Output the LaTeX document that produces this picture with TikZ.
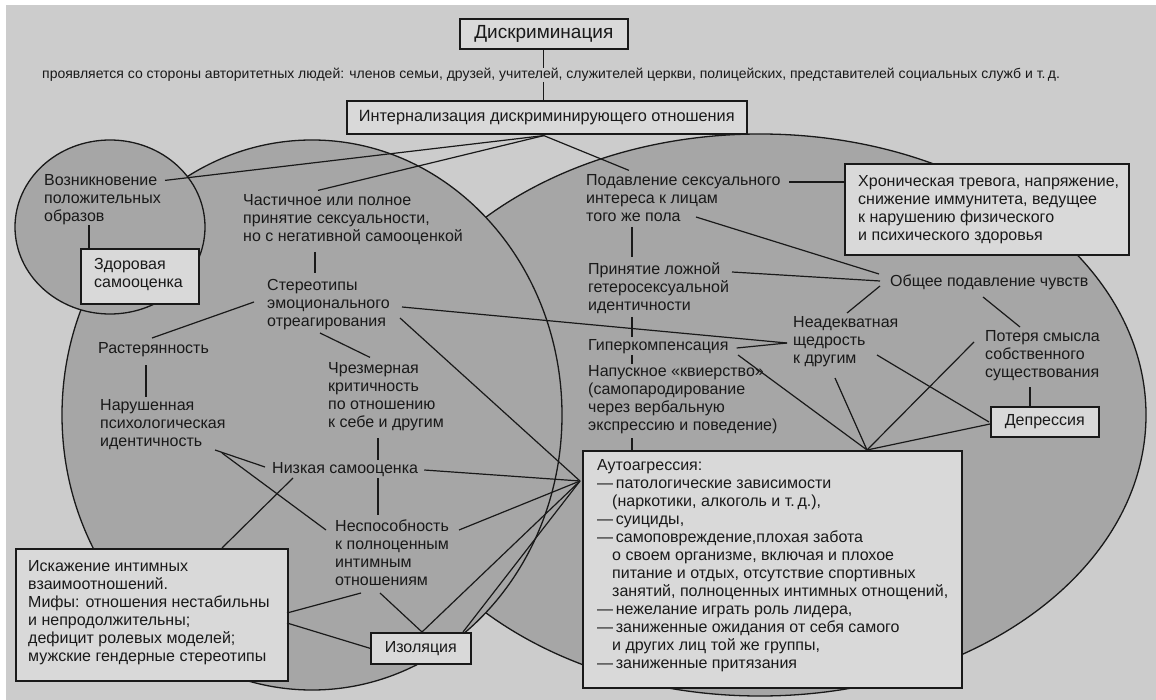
\documentclass[tikz,border=0pt]{standalone}
\usepackage{fontspec}
\setmainfont{Liberation Sans}
\usetikzlibrary{calc}
\pgfdeclarelayer{bg}
\pgfsetlayers{bg,main}
\definecolor{bgc}{gray}{0.80}
\definecolor{elc}{gray}{0.65}
\definecolor{bxc}{gray}{0.85}
\definecolor{ink}{gray}{0.10}
\begin{document}
\begin{tikzpicture}[x=1pt,y=-1pt,
  tx/.style={font=\fontsize{16}{18}\selectfont, text=ink, inner sep=0pt, align=left, anchor=north west, execute at begin node=\strut},
  tx1/.style={font=\fontsize{16}{18}\selectfont, text=ink, inner sep=0pt, anchor=west},
  bx/.style={draw=ink, line width=1.6pt, fill=bxc, anchor=north west, inner sep=0pt, text=ink, font=\fontsize{16}{18}\selectfont},
  ln/.style={draw=ink, line width=1.2pt},
  el/.style={draw=ink, line width=1.3pt, fill=elc}]
\useasboundingbox (0,0) rectangle (1156,700);
\begin{pgfonlayer}{bg}
\fill[white] (0,0) rectangle (1156,700);
\fill[bgc] (6,5) rectangle (1156,700);
\path[el] (760,415) ellipse [x radius=386, y radius=281];
\path[el] (312,415) ellipse [x radius=250, y radius=275];
\path[el] (110,227) ellipse [x radius=95, y radius=87];
\end{pgfonlayer}

% boxes
\node[bx, minimum width=168pt, minimum height=30pt, font=\fontsize{19}{22}\selectfont] (disc) at (459,18) {Дискриминация};
\node[tx1, font=\fontsize{14}{16}\selectfont] (prop) at (42,75) {проявляется со стороны авторитетных людей: членов семьи, друзей, учителей, служителей церкви, полицейских, представителей социальных служб и т.\,д.};
\node[bx, minimum width=400pt, minimum height=33pt, font=\fontsize{16.3}{18}\selectfont] (intl) at (346,100) {Интернализация дискриминирующего отношения};
\node[bx, minimum width=118pt, minimum height=55pt] (zdr) at (80,248) {};
\node[tx] (zdrt) at (94,258.4) {Здоровая\\самооценка};
\node[bx, minimum width=284pt, minimum height=91pt] (chr) at (844,163) {};
\node[tx] (chrt) at (858,175.4) {Хроническая тревога, напряжение,\\снижение иммунитета, ведущее\\к нарушению физического\\и психического здоровья};
\node[bx, minimum width=272pt, minimum height=132pt] (isk) at (15,548) {};
\node[tx] (iskt) at (28,560.4) {Искажение интимных\\взаимоотношений.\\Мифы: отношения нестабильны\\и непродолжительны;\\дефицит ролевых моделей;\\мужские гендерные стереотипы};
\node[bx, minimum width=100pt, minimum height=31pt] (izo) at (370,632) {Изоляция};
\node[bx, minimum width=108pt, minimum height=30pt] (dep) at (990,406) {Депрессия};
\node[bx, minimum width=379pt, minimum height=237pt] (aut) at (582,450) {};
\node[tx] (autt) at (597,459.4) {Аутоагрессия:\\—\,патологические зависимости\\\hspace*{15pt}(наркотики, алкоголь и т.\,д.),\\—\,суициды,\\—\,самоповреждение,плохая забота\\\hspace*{15pt}о своем организме, включая и плохое\\\hspace*{15pt}питание и отдых, отсутствие спортивных\\\hspace*{15pt}занятий, полноценных интимных отнощений,\\—\,нежелание играть роль лидера,\\—\,заниженные ожидания от себя самого\\\hspace*{15pt}и других лиц той же группы,\\—\,заниженные притязания};

% text nodes
\node[tx] (voz) at (44,174.4) {Возникновение\\положительных\\образов};
\node[tx] (chast) at (243,194.4) {Частичное или полное\\принятие сексуальности,\\но с негативной самооценкой};
\node[tx] (ster) at (267,279.4) {Стереотипы\\эмоционального\\отреагирования};
\node[tx1] (rast) at (98,350) {Растерянность};
\node[tx] (nar) at (100,399.4) {Нарушенная\\психологическая\\идентичность};
\node[tx] (chrez) at (328,362.4) {Чрезмерная\\критичность\\по отношению\\к себе и другим};
\node[tx1] (niz) at (272,470) {Низкая самооценка};
\node[tx] (nesp) at (335,519.4) {Неспособность\\к полноценным\\интимным\\отношениям};
\node[tx] (podav) at (586,174.4) {Подавление сексуального\\интереса к лицам\\того же пола};
\node[tx] (prin) at (588,262.4) {Принятие ложной\\гетеросексуальной\\идентичности};
\node[tx1] (obsh) at (890,282) {Общее подавление чувств};
\node[tx] (nead) at (793,316.4) {Неадекватная\\щедрость\\к другим};
\node[tx] (potr) at (985,330.4) {Потеря смысла\\собственного\\существования};
\node[tx1] (giper) at (588,347) {Гиперкомпенсация};
\node[tx] (napu) at (588,365.4) {Напускное «квиерство»\\(самопародирование\\через вербальную\\экспрессию и поведение)};

% junction points
\coordinate (aA) at ([shift={(-2,31)}]aut.north west);
\coordinate (aB) at ([shift={(285,0)}]aut.north west);
\coordinate (ib) at ([shift={(-3,1)}]intl.south);
\coordinate (sh) at ([shift={(-6,26.6)}]nead.north west);
\coordinate (ob) at ([shift={(-10,-1)}]obsh.west);
\coordinate (dl) at ([shift={(0,18)}]dep.north west);

% connectors
\draw[ln] (disc.south) -- (disc.south |- prop.north);
\draw[ln] (disc.south |- prop.south) -- (disc.south |- intl.north);
\draw[ln] ([shift={(121,6)}]voz.north west) -- (ib);
\draw[ln] ([shift={(75,-4)}]chast.north west) -- (ib);
\draw[ln] (ib) -- ([shift={(43,-4)}]podav.north west);
\draw[ln] ([shift={(45,51)}]voz.north west) -- ([shift={(9,0)}]zdr.north west);
\draw[ln] ([shift={(72,57.6)}]chast.north west) -- ([shift={(48,-6)}]ster.north west);
\draw[ln] ([shift={(-13,22.6)}]ster.north west) -- ([shift={(54,-12)}]rast.west);
\draw[ln] ([shift={(48,15)}]rast.west) -- ([shift={(46,-2)}]nar.north west);
\draw[ln] ([shift={(53,53.6)}]ster.north west) -- ([shift={(42,-5)}]chrez.north west);
\draw[ln] ([shift={(50,75.6)}]chrez.north west) -- ([shift={(106,-10)}]niz.west);
\draw[ln] ([shift={(135,27.6)}]ster.north west) -- (sh);
\draw[ln] ([shift={(133,38.6)}]ster.north west) -- (aA);
\draw[ln] ([shift={(115,50.6)}]nar.north west) -- ([shift={(-7,-3)}]niz.west);
\draw[ln] ([shift={(122,53.6)}]nar.north west) -- ([shift={(-9,10.6)}]nesp.north west);
\draw[ln] ([shift={(6,0)}]niz.east) -- (aA);
\draw[ln] ([shift={(106,8)}]niz.west) -- ([shift={(43,-4.4)}]nesp.north west);
\draw[ln] ([shift={(21,8)}]niz.west) -- ([shift={(207,0)}]isk.north west);
\draw[ln] ([shift={(124,10.6)}]nesp.north west) -- (aA);
\draw[ln] ([shift={(26,73.6)}]nesp.north west) -- ([shift={(272,65)}]isk.north west);
\draw[ln] ([shift={(45,73.6)}]nesp.north west) -- ([shift={(52,0)}]izo.north west);
\draw[ln] ([shift={(272,75)}]isk.north west) -- (izo.west);
\draw[ln] ([shift={(52,0)}]izo.north west) -- (aA);
\draw[ln] ([shift={(93,0)}]izo.north west) -- (aA);
\draw[ln] ([shift={(203,7.6)}]podav.north west) -- ([shift={(0,19)}]chr.north west);
\draw[ln] ([shift={(110,42.6)}]podav.north west) -- ([shift={(-11,-8)}]obsh.west);
\draw[ln] ([shift={(46,52.6)}]podav.north west) -- ([shift={(44,-5.4)}]prin.north west);
\draw[ln] ([shift={(144,9.6)}]prin.north west) -- (ob);
\draw[ln] ([shift={(44,54.6)}]prin.north west) -- ([shift={(44,-10)}]giper.west);
\draw[ln] ([shift={(0,5)}]ob) -- ([shift={(54,-3.4)}]nead.north west);
\draw[ln] ([shift={(93,15)}]obsh.west) -- ([shift={(35,-3.4)}]potr.north west);
\draw[ln] ([shift={(8,1)}]giper.east) -- (sh);
\draw[ln] ([shift={(44,8)}]giper.west) -- ([shift={(44,-1)}]napu.north west);
\draw[ln] ([shift={(44,72.6)}]napu.north west) -- ([shift={(50,0)}]aut.north west);
\draw[ln] ([shift={(150,8)}]giper.west) -- (aB);
\draw[ln] ([shift={(42,61.6)}]nead.north west) -- (aB);
\draw[ln] ([shift={(-11,11.6)}]potr.north west) -- (aB);
\draw[ln] (aB) -- (dl);
\draw[ln] ([shift={(84,38.6)}]nead.north west) -- ([shift={(-1,16)}]dep.north west);
\draw[ln] ([shift={(45,56.6)}]potr.north west) -- ([shift={(40,0)}]dep.north west);
\end{tikzpicture}
\end{document}
